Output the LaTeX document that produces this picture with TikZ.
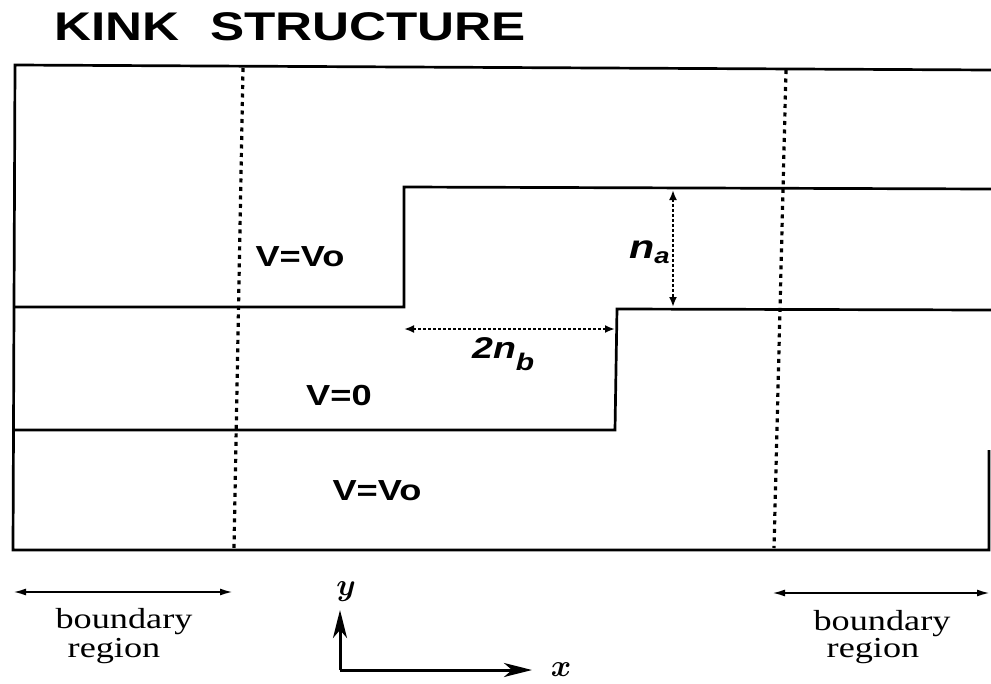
\documentclass[tikz,border=0pt]{standalone}
\usepackage{fontspec}
\setmainfont{Liberation Serif}
\newfontfamily\hel{Liberation Sans}
\usetikzlibrary{arrows.meta}
\newcommand{\wx}[1]{\scalebox{1.25}[1]{#1}}
\begin{document}
\begin{tikzpicture}[x=1pt,y=-1pt,
  frame/.style={line width=2.7pt, line join=miter},
  bound/.style={line width=3.2pt, dash pattern=on 4pt off 4.5pt},
  meas/.style={line width=2.2pt, dash pattern=on 2.5pt off 2.5pt,
    {Latex[length=10pt,width=8pt]}-{Latex[length=10pt,width=8pt]}},
  span/.style={line width=2pt, {Latex[length=13pt,width=7pt]}-{Latex[length=13pt,width=7pt]}},
  axis/.style={line width=3pt, -{Stealth[length=28pt,width=14pt,inset=8pt]}},
  vlab/.style={anchor=base, inner sep=0pt, font=\hel\bfseries\fontsize{29}{29}\selectfont},
  blab/.style={anchor=base, inner sep=0pt, font=\fontsize{29}{29}\selectfont},
  lab/.style={anchor=base west, inner sep=0pt, font=\hel\bfseries\itshape}]
\useasboundingbox (0,0) rectangle (991,683);
% frame
\coordinate (tr) at (991,70);
\coordinate (tl) at (15,65);
\coordinate (bl) at (13,550);
\coordinate (br) at (989,550);
\coordinate (rr) at (989,450);
\draw[frame] (tr) -- (tl) -- (bl) -- (br) -- (rr);
% interfaces
\coordinate (a1) at (15,307);
\coordinate (a2) at (404,307);
\coordinate (a3) at (404,187);
\coordinate (a4) at (991,189);
\draw[frame] (a1) -- (a2) -- (a3) -- (a4);
\coordinate (b1) at (15,430);
\coordinate (b2) at (615,430);
\coordinate (b3) at (617,309);
\coordinate (b4) at (991,310);
\draw[frame] (b1) -- (b2) -- (b3) -- (b4);
% boundary dotted lines
\coordinate (d1t) at (243,68);
\coordinate (d1b) at (234,548);
\coordinate (d2t) at (786,70);
\coordinate (d2b) at (774,548);
\draw[bound] (d1t) -- (d1b);
\draw[bound] (d2t) -- (d2b);
% measurements
\coordinate (na1) at (673,190);
\coordinate (na2) at (673,307);
\draw[meas] (na1) -- (na2);
\coordinate (nb1) at (404,329);
\coordinate (nb2) at (615,329);
\draw[meas] (nb1) -- (nb2);
\node[lab] (na) at (629,258) {\fontsize{33}{33}\selectfont\wx{n}\raisebox{-5pt}{\fontsize{22}{22}\selectfont\wx{a}}};
\node[lab] (nb) at (472,358) {\fontsize{30}{30}\selectfont\wx{2n}\raisebox{-12pt}{\fontsize{24}{24}\selectfont\wx{b}}};
% title
\node[anchor=base west, inner sep=0pt] (title) at (54,40)
  {\hel\bfseries\fontsize{40}{40}\selectfont\scalebox{1.28}[1]{KINK\hspace{24pt}STRUCTURE}};
% region labels
\node[vlab] (v1) at (300,266) {\wx{V=Vo}};
\node[vlab] (v2) at (339,405) {\wx{V=0}};
\node[vlab] (v3) at (377,500) {\wx{V=Vo}};
% boundary regions
\coordinate (l1) at (13,592);
\coordinate (l2) at (233,592);
\draw[span] (l1) -- (l2);
\coordinate (r1) at (772,593);
\coordinate (r2) at (990,593);
\draw[span] (r1) -- (r2);
\node[blab] (lb1) at (124,628) {\wx{boundary}};
\node[blab] (lb2) at (114,657) {\wx{region}};
\node[blab] (rb1) at (882,630) {\wx{boundary}};
\node[blab] (rb2) at (873,657) {\wx{region}};
% axes
\coordinate (o) at (340,670);
\coordinate (yt) at (340,610);
\coordinate (xt) at (532,670);
\draw[axis] (o) -- (yt);
\draw[axis] (o) -- (xt);
\node[inner sep=0pt] (ylab) at (346,592) {\scalebox{3.1}{\boldmath$y$}};
\node[inner sep=0pt] (xlab) at (561,670) {\scalebox{3.1}{\boldmath$x$}};
\end{tikzpicture}
\end{document}
